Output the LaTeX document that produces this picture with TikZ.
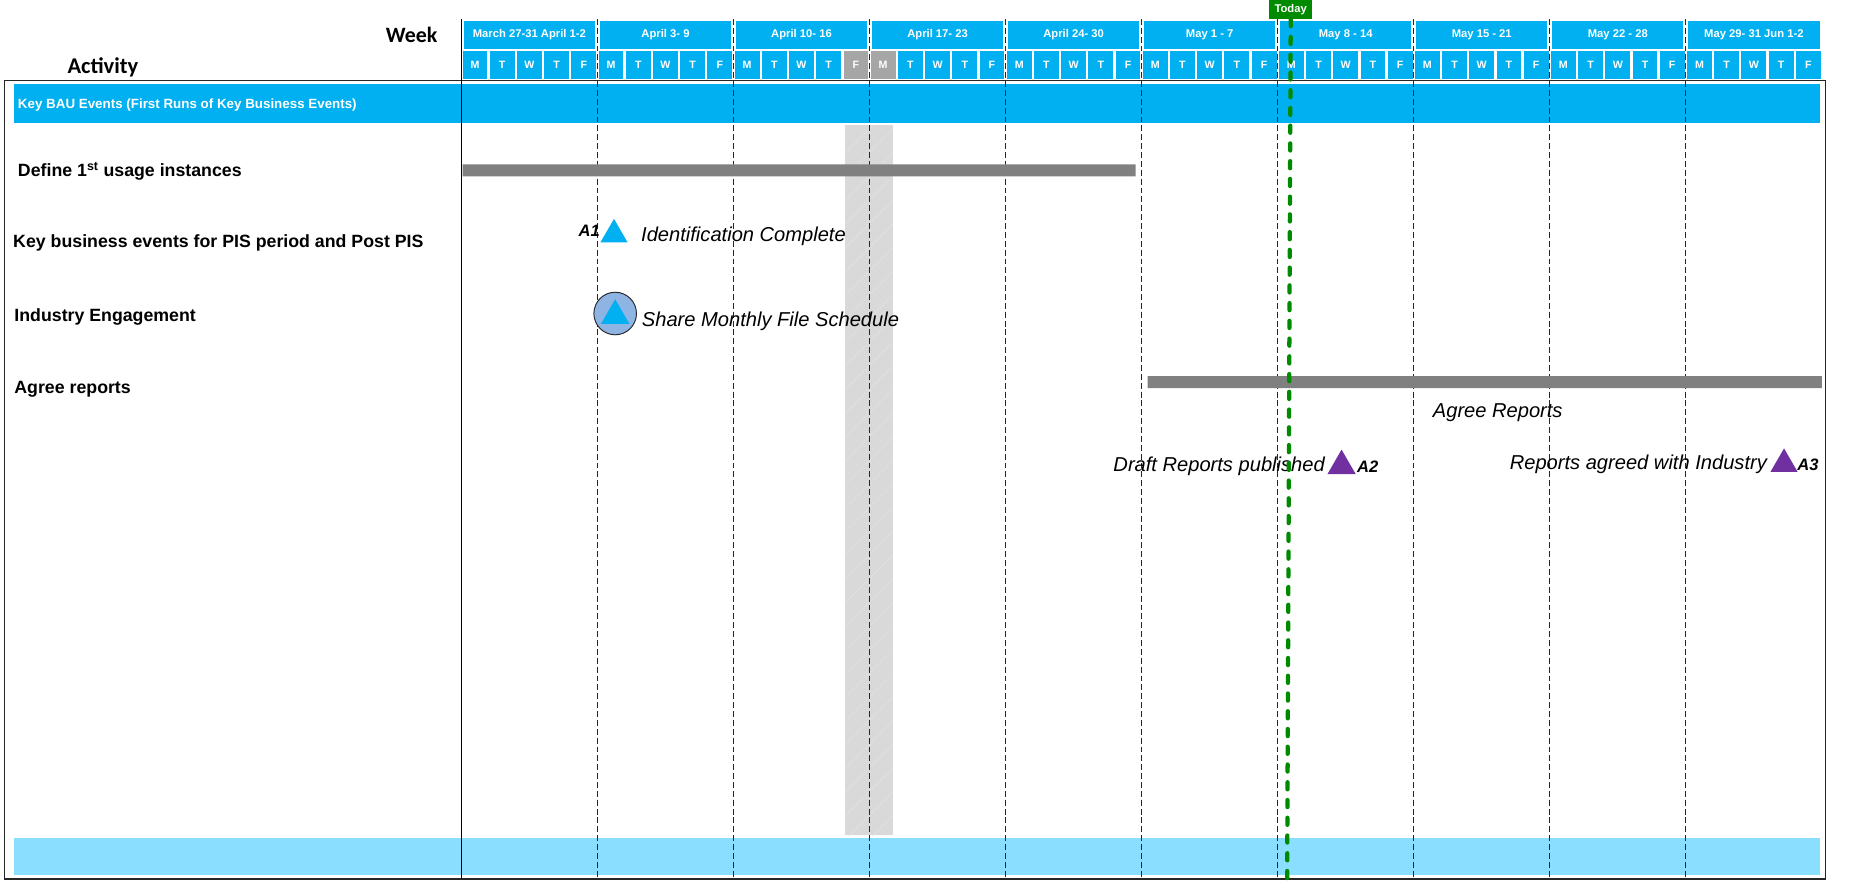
\documentclass[tikz,border=0pt]{standalone}
\usepackage{fontspec}
\setmainfont{Liberation Sans}
\newfontfamily\calibri{Carlito}
\usetikzlibrary{shapes.geometric}
\definecolor{hdrblue}{HTML}{00B0F0}
\definecolor{paleblue}{HTML}{8ADEFF}
\definecolor{bargray}{HTML}{808080}
\definecolor{offgray}{HTML}{A6A6A6}
\definecolor{bandgray}{HTML}{D9D9D9}
\definecolor{todaygreen}{HTML}{008A00}
\definecolor{ringblue}{HTML}{8EB4E3}
\definecolor{mspurple}{HTML}{7030A0}
\begin{document}
\begin{tikzpicture}[x=1pt,y=-1pt,
		weekbox/.style={fill=hdrblue,text=white,inner sep=0pt,minimum width=111pt,minimum height=23pt,font=\bfseries\fontsize{9.5}{11}\selectfont},
		daybox/.style={fill=hdrblue,text=white,inner sep=0pt,minimum width=21pt,minimum height=23pt,font=\bfseries\fontsize{9}{11}\selectfont},
		rowlabel/.style={anchor=base west,inner sep=0pt,font=\bfseries\fontsize{15}{18}\selectfont},
		note/.style={anchor=base west,inner sep=0pt,font=\itshape\fontsize{17}{20}\selectfont},
		tag/.style={anchor=base west,inner sep=0pt,font=\bfseries\itshape\fontsize{14}{17}\selectfont},
		milestone/.style={regular polygon,regular polygon sides=3,inner sep=0pt,minimum size=#1}]
	\useasboundingbox (0,0) rectangle (1568,756);
	% header
	\path (370,36) node[anchor=base east,inner sep=0pt,font=\calibri\bfseries\fontsize{18.5}{22}\selectfont](week){Week};
	\path (87,62) node[anchor=base,inner sep=0pt,font=\calibri\bfseries\fontsize{19}{22}\selectfont](activity){Activity};
	\foreach \gt[count=\i from 0] in {March 27-31 April 1-2,April 3- 9,April 10- 16,April 17- 23,April 24- 30,May 1 - 7,May 8 - 14,May 15 - 21,May 22 - 28,May 29- 31 Jun 1-2}\path (447.5+115*\i,29.5) node[weekbox](w\i){\gt};
	\foreach \i in {0,...,9}\foreach \gt[count=\j from 0] in {M,T,W,T,F}\path (401.5+115*\i+23*\j,55) node[daybox](d\i\j){\gt};
	\path (d24) node[daybox,fill=offgray]{F} (d30) node[daybox,fill=offgray]{M};
	% body
	\draw[line width=1.2pt,black!85] (4,68) rectangle (1543,743);
	\fill[hdrblue] (12,71) rectangle (1538,104);
	\path (15,89) node[anchor=west,inner sep=0pt,text=white,font=\bfseries\fontsize{11.3}{13}\selectfont](bau){Key BAU Events (First Runs of Key Business Events)};
	\fill[paleblue] (12,708) rectangle (1538,740);
	\fill[bandgray] (714,106) rectangle (755,706);
	\begin{scope}
		\clip (714,106) rectangle (755,706);
		\foreach \k in {0,...,32}\draw[white!22!bandgray,line width=.6pt] (714,110+20*\k)--++(41,-41);
	\end{scope}
	\draw[line width=1pt] (390,16)--(390,743);
	\foreach \x in {505,620,...,1425}\draw[black!85,line width=.8pt,dash pattern=on 5pt off 2.5pt] (\x,16)--(\x,743);
	\fill[bargray] (391,139) rectangle (960,149) (970,318) rectangle (1540,328);
	% activities
	\foreach \y/\x/\gt[count=\i] in {149.5/15/Define 1\textsuperscript{st} usage instances,209.5/11/Key business events for PIS period and Post PIS,271.5/12/Industry Engagement,332.5/12/Agree reports}\path (\x,\y) node[rowlabel](r\i){\gt};
	% milestones
	\path (520,265) node[circle,draw=black!85,line width=.8pt,fill=ringblue,minimum size=36pt,inner sep=0pt](ring){};
	\path (519,198.3) node[milestone=26.6pt,fill=hdrblue](m1){} (520,266.8) node[milestone=27.7pt,fill=hdrblue](m0){}
		(1134,393.9) node[milestone=27.7pt,fill=mspurple](m2){} (1508,392.3) node[milestone=26.6pt,fill=mspurple](m3){};
	\foreach \x/\y/\gt[count=\i] in {489/200/A1,1147/399/A2,1519/398/A3}\path (\x,\y) node[tag](a\i){\gt};
	\foreach \x/\y/\gt[count=\i] in {541.8/204.5/Identification Complete,542.4/276/Share Monthly File Schedule,1211/353/Agree Reports,941/398.5/Draft Reports published,1276/396.5/Reports agreed with Industry}\path (\x,\y) node[note](n\i){\gt};
	% today
	\path (1091,8) node[fill=todaygreen,text=white,inner sep=0pt,minimum width=36pt,minimum height=16pt,font=\bfseries\fontsize{9.5}{11}\selectfont](today){Today};
	\coordinate (tend) at (1088,743);
	\draw[todaygreen,line width=3.6pt,line cap=round,dash pattern=on 6pt off 9pt] (today.south)--(tend);
\end{tikzpicture}
\end{document}
